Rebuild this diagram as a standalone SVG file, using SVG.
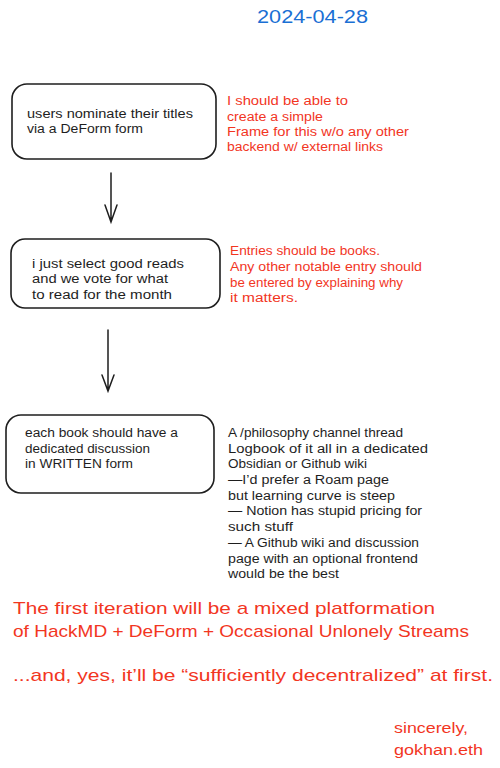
<svg xmlns="http://www.w3.org/2000/svg" width="500" height="768" viewBox="0 0 500 768">
<style>
text{font-family:"Liberation Sans","DejaVu Sans",sans-serif;}
.n{font-size:12.5px;fill:#1e1e1e;}
.r{font-size:12.5px;fill:#f2361f;}
.b{font-size:17px;fill:#f2361f;}
.box{fill:#fff;stroke:#1e1e1e;stroke-width:1.6;}
.c{stroke:#1e1e1e;stroke-width:1.5;fill:none;stroke-linecap:round;}
</style>
<rect width="500" height="768" fill="#fff"/>
<text id="date" x="257" y="23" style="font-size:18px;fill:#1a6fd4" textLength="111" lengthAdjust="spacingAndGlyphs">2024-04-28</text>
<g id="node1">
<rect class="box" x="12" y="84" width="204" height="75" rx="15"/>
<text class="n" x="27" y="118" textLength="166" lengthAdjust="spacingAndGlyphs">users nominate their titles</text>
<text class="n" x="27" y="133" textLength="116" lengthAdjust="spacingAndGlyphs">via a DeForm form</text>
</g>
<g id="note1">
<text class="r" x="227" y="105" textLength="121" lengthAdjust="spacingAndGlyphs">I should be able to</text>
<text class="r" x="227" y="121" textLength="96" lengthAdjust="spacingAndGlyphs">create a simple</text>
<text class="r" x="227" y="136" textLength="182" lengthAdjust="spacingAndGlyphs">Frame for this w/o any other</text>
<text class="r" x="227" y="151" textLength="156" lengthAdjust="spacingAndGlyphs">backend w/ external links</text>
</g>
<g id="node2">
<rect class="box" x="11" y="239" width="209" height="69" rx="14"/>
<text class="n" x="32" y="268" textLength="152" lengthAdjust="spacingAndGlyphs">i just select good reads</text>
<text class="n" x="32" y="283" textLength="136" lengthAdjust="spacingAndGlyphs">and we vote for what</text>
<text class="n" x="32" y="299" textLength="140" lengthAdjust="spacingAndGlyphs">to read for the month</text>
</g>
<g id="note2">
<text class="r" x="230" y="255" textLength="150" lengthAdjust="spacingAndGlyphs">Entries should be books.</text>
<text class="r" x="230" y="271" textLength="192" lengthAdjust="spacingAndGlyphs">Any other notable entry should</text>
<text class="r" x="230" y="287" textLength="173" lengthAdjust="spacingAndGlyphs">be entered by explaining why</text>
<text class="r" x="230" y="302" textLength="68" lengthAdjust="spacingAndGlyphs">it matters.</text>
</g>
<g id="node3">
<rect class="box" x="6" y="415" width="208" height="78" rx="15"/>
<text class="n" x="25" y="437" textLength="153" lengthAdjust="spacingAndGlyphs">each book should have a</text>
<text class="n" x="25" y="453" textLength="125" lengthAdjust="spacingAndGlyphs">dedicated discussion</text>
<text class="n" x="25" y="468" textLength="108" lengthAdjust="spacingAndGlyphs">in WRITTEN form</text>
</g>
<g id="note3">
<text class="n" x="228" y="437" textLength="175" lengthAdjust="spacingAndGlyphs">A /philosophy channel thread</text>
<text class="n" x="228" y="453" textLength="200" lengthAdjust="spacingAndGlyphs">Logbook of it all in a dedicated</text>
<text class="n" x="228" y="468" textLength="139" lengthAdjust="spacingAndGlyphs">Obsidian or Github wiki</text>
<text class="n" x="228" y="484" textLength="161" lengthAdjust="spacingAndGlyphs">—I’d prefer a Roam page</text>
<text class="n" x="228" y="500" textLength="167" lengthAdjust="spacingAndGlyphs">but learning curve is steep</text>
<text class="n" x="228" y="515" textLength="194" lengthAdjust="spacingAndGlyphs">— Notion has stupid pricing for</text>
<text class="n" x="228" y="531" textLength="65" lengthAdjust="spacingAndGlyphs">such stuff</text>
<text class="n" x="228" y="547" textLength="191" lengthAdjust="spacingAndGlyphs">— A Github wiki and discussion</text>
<text class="n" x="228" y="563" textLength="190" lengthAdjust="spacingAndGlyphs">page with an optional frontend</text>
<text class="n" x="228" y="578" textLength="111" lengthAdjust="spacingAndGlyphs">would be the best</text>
</g>
<g id="connectors">
<path class="c" d="M111 173 L111 222 M105 205 L111 222 L117 205"/>
<path class="c" d="M108 330 L108 391 M102 375 L108 391 L114 375"/>
</g>
<g id="footer">
<text class="b" x="13" y="614" textLength="422" lengthAdjust="spacingAndGlyphs">The first iteration will be a mixed platformation</text>
<text class="b" x="13" y="637" textLength="456" lengthAdjust="spacingAndGlyphs">of HackMD + DeForm + Occasional Unlonely Streams</text>
<text class="b" x="13" y="681" textLength="480" lengthAdjust="spacingAndGlyphs">...and, yes, it’ll be “sufficiently decentralized” at first.</text>
<text class="r" x="394" y="733" style="font-size:14px" textLength="74" lengthAdjust="spacingAndGlyphs">sincerely,</text>
<text class="r" x="394" y="755" style="font-size:14px" textLength="89" lengthAdjust="spacingAndGlyphs">gokhan.eth</text>
</g>
</svg>
